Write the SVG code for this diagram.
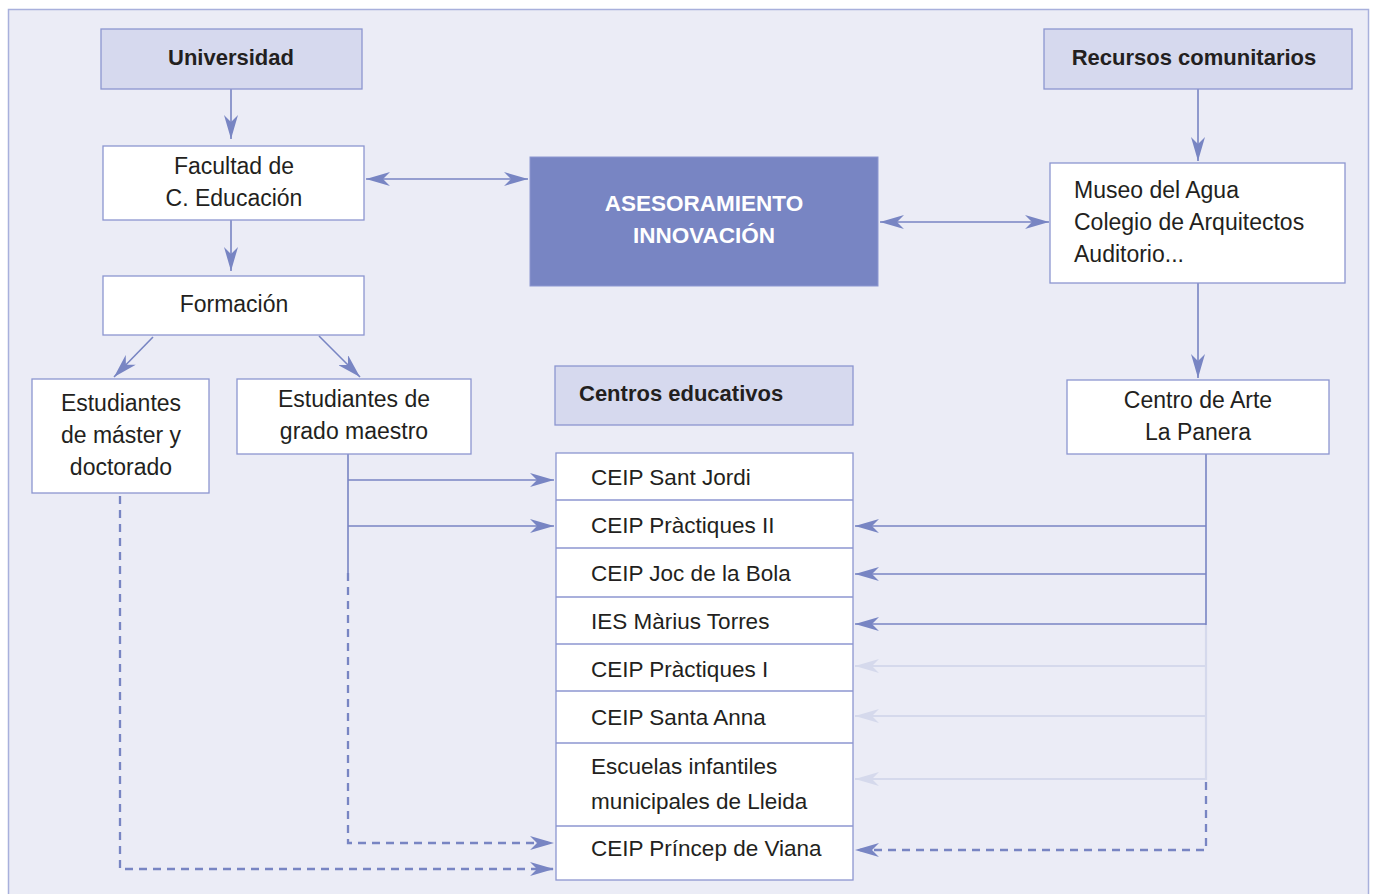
<svg xmlns="http://www.w3.org/2000/svg" width="1375" height="894" viewBox="0 0 1375 894">
<defs>
<style>
.t{font-family:"Liberation Sans",Arial,sans-serif;font-size:23px;fill:#231f20}
.s{font-size:22.5px}
.b{font-weight:bold;font-size:22px}
.c{text-anchor:middle}
.w{fill:#ffffff;font-size:22.5px}
.box{fill:#ffffff;stroke:#8c96d0;stroke-width:1.3}
.hdr{fill:#d6d9ee;stroke:#8c96d0;stroke-width:1.3}
.ln{fill:none;stroke:#7885c3;stroke-width:1.6}
.dl{fill:none;stroke:#7885c3;stroke-width:2.3;stroke-dasharray:8,6}
.fl{fill:none;stroke:#d5d9ec;stroke-width:2.2}
</style>
<marker id="a" viewBox="0 0 24 14" refX="24" refY="7" markerWidth="24" markerHeight="14" markerUnits="userSpaceOnUse" orient="auto-start-reverse"><path d="M0,0 L24,7 L0,14 L7,7 Z" fill="#7885c3"/></marker>
<marker id="af" viewBox="0 0 24 14" refX="24" refY="7" markerWidth="24" markerHeight="14" markerUnits="userSpaceOnUse" orient="auto"><path d="M0,0 L24,7 L0,14 L7,7 Z" fill="#d5d9ec"/></marker>
</defs>
<rect x="0" y="0" width="1375" height="894" fill="#ffffff"/>
<rect x="8.5" y="9.5" width="1360" height="900" fill="#ebecf6" stroke="#a8b0dc" stroke-width="1.5"/>

<g id="connectors">
<line class="ln" x1="231" y1="89" x2="231" y2="139" marker-end="url(#a)"/>
<line class="ln" x1="231" y1="220" x2="231" y2="271" marker-end="url(#a)"/>
<line class="ln" x1="153" y1="337" x2="114" y2="377" marker-end="url(#a)"/>
<line class="ln" x1="319" y1="336" x2="360" y2="377" marker-end="url(#a)"/>
<line class="ln" x1="366" y1="179" x2="528" y2="179" marker-start="url(#a)" marker-end="url(#a)"/>
<line class="ln" x1="880" y1="222" x2="1049" y2="222" marker-start="url(#a)" marker-end="url(#a)"/>
<line class="ln" x1="1198" y1="89" x2="1198" y2="161" marker-end="url(#a)"/>
<line class="ln" x1="1198" y1="283" x2="1198" y2="378" marker-end="url(#a)"/>
<line class="ln" x1="348" y1="454" x2="348" y2="573"/>
<line class="ln" x1="348" y1="480" x2="554" y2="480" marker-end="url(#a)"/>
<line class="ln" x1="348" y1="526" x2="554" y2="526" marker-end="url(#a)"/>
<polyline class="dl" points="348,573 348,843 554,843" marker-end="url(#a)"/>
<polyline class="dl" points="120,496 120,869 554,869" marker-end="url(#a)"/>
<line class="ln" x1="1206" y1="454" x2="1206" y2="625"/>
<line class="ln" x1="1206" y1="526" x2="855" y2="526" marker-end="url(#a)"/>
<line class="ln" x1="1206" y1="574" x2="855" y2="574" marker-end="url(#a)"/>
<line class="ln" x1="1206" y1="624" x2="855" y2="624" marker-end="url(#a)"/>
<line class="fl" x1="1206" y1="625" x2="1206" y2="780"/>
<line class="fl" x1="1206" y1="666" x2="855" y2="666" marker-end="url(#af)"/>
<line class="fl" x1="1206" y1="716" x2="855" y2="716" marker-end="url(#af)"/>
<line class="fl" x1="1206" y1="779" x2="855" y2="779" marker-end="url(#af)"/>
<polyline class="dl" points="1206,782 1206,850 855,850" marker-end="url(#a)"/>
</g>

<g id="universidad"><rect class="hdr" x="101" y="29" width="261" height="60"/><text class="t b c" x="231" y="65">Universidad</text></g>
<g id="facultad"><rect class="box" x="103" y="146" width="261" height="74"/><text class="t c" x="234" y="174">Facultad de</text><text class="t c" x="234" y="206">C. Educación</text></g>
<g id="formacion"><rect class="box" x="103" y="276" width="261" height="59"/><text class="t c" x="234" y="312">Formación</text></g>
<g id="master"><rect class="box" x="32" y="379" width="177" height="114"/><text class="t c" x="121" y="411">Estudiantes</text><text class="t c" x="121" y="443">de máster y</text><text class="t c" x="121" y="475">doctorado</text></g>
<g id="grado"><rect class="box" x="237" y="379" width="234" height="75"/><text class="t c" x="354" y="407">Estudiantes de</text><text class="t c" x="354" y="439">grado maestro</text></g>
<g id="asesoramiento"><rect x="530" y="157" width="348" height="129" fill="#7885c3" stroke="#8c96d0" stroke-width="1"/><text class="t b c w" x="704" y="211">ASESORAMIENTO</text><text class="t b c w" x="704" y="243">INNOVACIÓN</text></g>
<g id="recursos"><rect class="hdr" x="1044" y="29" width="308" height="60"/><text class="t b c" x="1194" y="65">Recursos comunitarios</text></g>
<g id="museo"><rect class="box" x="1050" y="163" width="295" height="120"/><text class="t" x="1074" y="198">Museo del Agua</text><text class="t" x="1074" y="230">Colegio de Arquitectos</text><text class="t" x="1074" y="262">Auditorio...</text></g>
<g id="panera"><rect class="box" x="1067" y="380" width="262" height="74"/><text class="t c" x="1198" y="408">Centro de Arte</text><text class="t c" x="1198" y="440">La Panera</text></g>
<g id="centros"><rect class="hdr" x="555" y="366" width="298" height="59"/><text class="t b" x="579" y="401">Centros educativos</text></g>

<g id="lista">
<rect class="box" x="556" y="453" width="297" height="427"/>
<g stroke="#8c96d0" stroke-width="1.3">
<line x1="556" y1="500" x2="853" y2="500"/>
<line x1="556" y1="548" x2="853" y2="548"/>
<line x1="556" y1="597" x2="853" y2="597"/>
<line x1="556" y1="644" x2="853" y2="644"/>
<line x1="556" y1="691" x2="853" y2="691"/>
<line x1="556" y1="743" x2="853" y2="743"/>
<line x1="556" y1="826" x2="853" y2="826"/>
</g>
</g>
<g id="c1"><text class="t s" x="591" y="485">CEIP Sant Jordi</text></g>
<g id="c2"><text class="t s" x="591" y="533">CEIP Pràctiques II</text></g>
<g id="c3"><text class="t s" x="591" y="581">CEIP Joc de la Bola</text></g>
<g id="c4"><text class="t s" x="591" y="629">IES Màrius Torres</text></g>
<g id="c5"><text class="t s" x="591" y="677">CEIP Pràctiques I</text></g>
<g id="c6"><text class="t s" x="591" y="725">CEIP Santa Anna</text></g>
<g id="c7"><text class="t s" x="591" y="774">Escuelas infantiles</text><text class="t s" x="591" y="809">municipales de Lleida</text></g>
<g id="c8"><text class="t s" x="591" y="856">CEIP Príncep de Viana</text></g>
</svg>
